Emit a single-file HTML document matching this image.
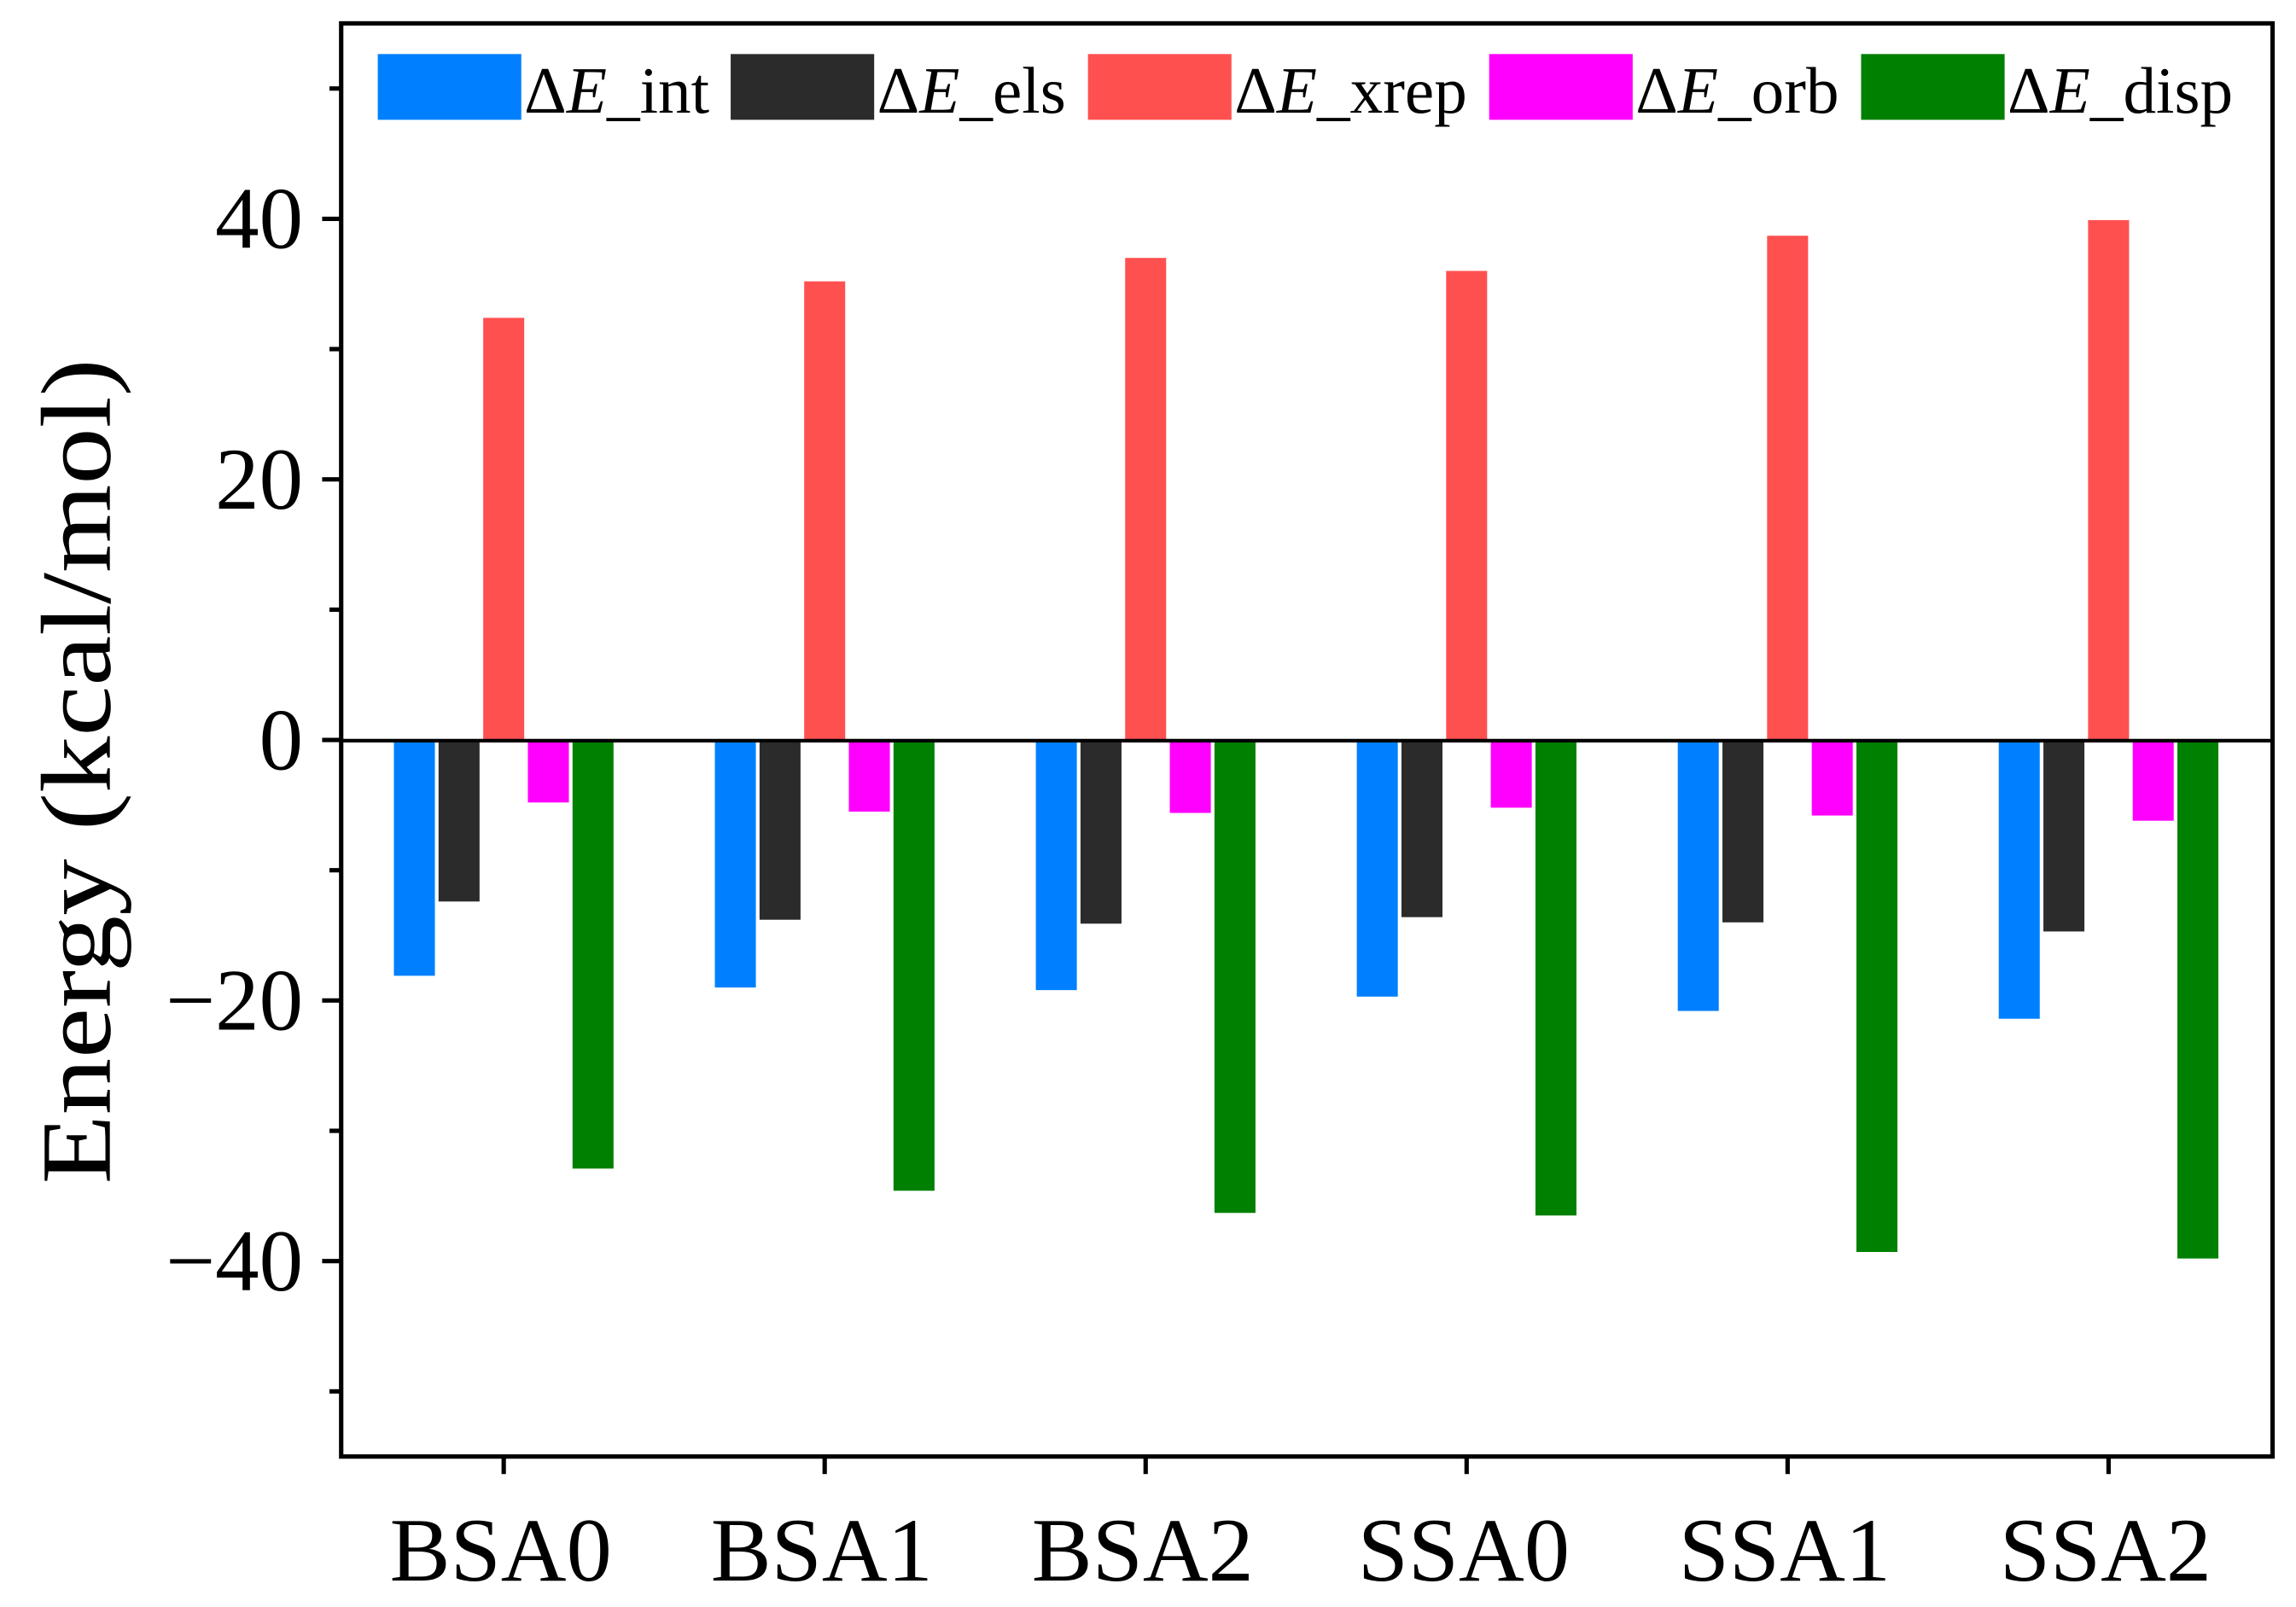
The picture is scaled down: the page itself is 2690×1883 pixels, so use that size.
<!DOCTYPE html>
<html><head><meta charset="utf-8"><style>
html,body{margin:0;padding:0;background:#fff;}
svg{display:block;}
text{font-family:"Liberation Serif","Times New Roman",serif;}
</style></head><body>
<svg id="chart" width="2690" height="1883" viewBox="0 0 1568 1100" preserveAspectRatio="none" xmlns="http://www.w3.org/2000/svg" font-family="Liberation Serif, serif">
<rect x="0" y="0" width="1568" height="1100" fill="#fff"/>
<g id="bars"></g>
<line x1="233" y1="507" x2="1552" y2="507" stroke="#000" stroke-width="2.5"/>
<rect x="233" y="16" width="1319" height="981" fill="none" stroke="#000" stroke-width="3"/>
<g id="axes"></g>
<g id="legend"></g>
<text transform="translate(75,528) rotate(-90)" text-anchor="middle" font-size="68" textLength="565" lengthAdjust="spacingAndGlyphs">Energy (kcal/mol)</text>
</svg>
<script>
const categories = ["BSA0","BSA1","BSA2","SSA0","SSA1","SSA2"];
const seriesNames = ["int","els","xrep","orb","disp"];
const seriesColors = ["#0080ff","#2b2b2b","#ff5050","#ff00ff","#008000"];
const valuesInt = [-18.1,-19.0,-19.2,-19.7,-20.8,-21.4];
const valuesEls = [-12.4,-13.8,-14.1,-13.6,-14.0,-14.7];
const valuesXrep = [32.4,35.2,37.0,36.0,38.7,39.9];
const valuesOrb = [-4.8,-5.5,-5.6,-5.2,-5.8,-6.2];
const valuesDisp = [-32.9,-34.6,-36.3,-36.5,-39.3,-39.8];
const majorTicks = [-40,-20,0,20,40];
const majorTickLabels = ["\u221240","\u221220","0","20","40"];
const minorTicks = [-50,-30,-10,10,30,50];

const NS="http://www.w3.org/2000/svg";
const allSeries=[valuesInt,valuesEls,valuesXrep,valuesOrb,valuesDisp];
const yMin=-55,yMax=55,plotTop=16,plotBottom=997,plotLeft=233;
function yScale(v){return plotBottom-(v-yMin)/(yMax-yMin)*(plotBottom-plotTop);}
function xScale(i){return 344+i*219.2;}
const barW=28,step=30.5;
function mk(tag,attrs,parent){const e=document.createElementNS(NS,tag);for(const k in attrs)e.setAttribute(k,attrs[k]);parent.appendChild(e);return e;}
const barsG=document.getElementById('bars');
allSeries.forEach((vals,s)=>{
  vals.forEach((v,i)=>{
    const cx=xScale(i)+(s-2)*step;
    const y0=yScale(0),y1=yScale(v);
    const r=mk('rect',{x:cx-barW/2,y:Math.min(y0,y1),width:barW,height:Math.abs(y1-y0),fill:seriesColors[s]},barsG);
    
    
  });
});
const axG=document.getElementById('axes');
majorTicks.forEach((t,i)=>{
  const y=yScale(t);
  const l=mk('line',{x1:220,y1:y,x2:plotLeft,y2:y,stroke:'#000','stroke-width':3},axG);
  
  
  const tx=mk('text',{x:207,y:y+20,'text-anchor':'end','font-size':60},axG);
  tx.textContent=majorTickLabels[i];
  
  
});
minorTicks.forEach(t=>{
  const y=yScale(t);
  const l=mk('line',{x1:225,y1:y,x2:plotLeft,y2:y,stroke:'#000','stroke-width':3},axG);
  
  
});
categories.forEach((c,i)=>{
  const x=xScale(i);
  const l=mk('line',{x1:x,y1:plotBottom,x2:x,y2:plotBottom+12,stroke:'#000','stroke-width':3},axG);
  
  
  const tx=mk('text',{x:x-2,y:1082,'text-anchor':'middle','font-size':62},axG);
  tx.textContent=c;
  
  
});
const legG=document.getElementById('legend');
const legX=[258,499,743,1017,1271];
seriesNames.forEach((n,s)=>{
  const g=mk('g',{},legG);
  
  
  mk('rect',{x:legX[s],y:37,width:98,height:45,fill:seriesColors[s]},g);
  const t=mk('text',{x:legX[s]+100,y:77,'font-size':45},g);
  t.innerHTML='\u0394<tspan font-style="italic">E</tspan>_'+n;
});
</script>
</body></html>
